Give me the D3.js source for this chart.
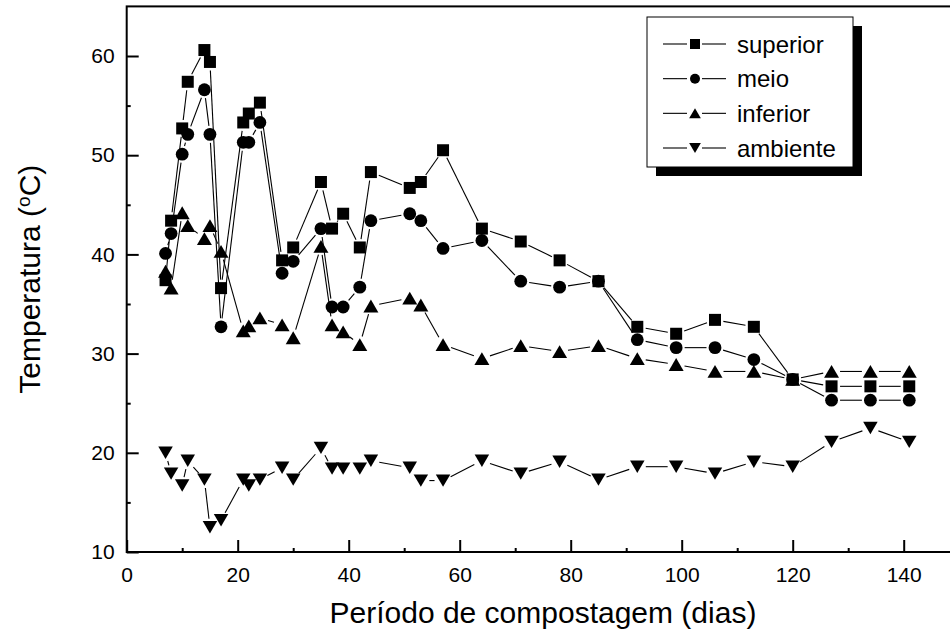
<!DOCTYPE html>
<html>
<head>
<meta charset="utf-8">
<script src="https://cdn.jsdelivr.net/npm/d3@7/dist/d3.min.js"></script>
<style>
  body { margin: 0; background: #fff; }
  svg { display: block; }
  text { font-family: "Liberation Sans", Arial, sans-serif; fill: #000; }
</style>
</head>
<body>
<div id="chart"></div>
<script>
// Temperatura durante a compostagem

const dias = [7, 8, 10, 11, 14, 15, 17, 21, 22, 24, 28, 30, 35, 37, 39, 42, 44, 51, 53, 57,
              64, 71, 78, 85, 92, 99, 106, 113, 120, 127, 134, 141];

const superior = [37.4, 43.4, 52.7, 57.4, 60.6, 59.4, 36.6, 53.3, 54.2, 55.3, 39.4, 40.7, 47.3, 42.6, 44.1, 40.7, 48.3, 46.7, 47.3, 50.5,
                  42.6, 41.3, 39.4, 37.3, 32.7, 32.0, 33.4, 32.7, 27.4, 26.7, 26.7, 26.7];
const meio = [40.1, 42.1, 50.1, 52.1, 56.6, 52.1, 32.7, 51.3, 51.3, 53.3, 38.1, 39.3, 42.6, 34.7, 34.7, 36.7, 43.4, 44.1, 43.4, 40.6,
              41.4, 37.3, 36.7, 37.3, 31.4, 30.6, 30.6, 29.4, 27.4, 25.3, 25.3, 25.3];
const inferior = [38.3, 36.6, 44.2, 42.9, 41.6, 42.9, 40.3, 32.3, 32.8, 33.6, 32.9, 31.6, 40.8, 32.9, 32.2, 30.9, 34.8, 35.6, 34.9, 30.9,
                  29.5, 30.8, 30.2, 30.8, 29.5, 28.9, 28.2, 28.2, 27.4, 28.2, 28.2, 28.2];
const ambiente = [20.0, 17.9, 16.7, 19.2, 17.3, 12.5, 13.2, 17.3, 16.7, 17.3, 18.5, 17.3, 20.5, 18.4, 18.4, 18.4, 19.2, 18.5, 17.2, 17.2,
                  19.2, 17.9, 19.1, 17.3, 18.6, 18.6, 17.9, 19.1, 18.6, 21.1, 22.5, 21.1];

const seriesNames = ["superior", "meio", "inferior", "ambiente"];
const seriesValues = [superior, meio, inferior, ambiente];
const seriesShapes = ["square", "circle", "up", "down"];

const xTicks = [0, 20, 40, 60, 80, 100, 120, 140];
const yTicks = [10, 20, 30, 40, 50, 60];

const width = 950, height = 636;
const left = 126.7, bottom = 552;

const x = d3.scaleLinear().domain([0, 150]).range([left, left + 150 * 5.55]);
const y = d3.scaleLinear().domain([10, 65]).range([bottom, bottom - 55 * 9.92]);

const svg = d3.select("#chart").append("svg")
    .attr("width", width).attr("height", height);

// marker path by shape, s = half size
function markerPath(shape, s) {
    if (shape === "square") return `M${-s},${-s}H${s}V${s}H${-s}Z`;
    if (shape === "circle") return `M${s},0A${s},${s} 0 1,1 ${-s},0A${s},${s} 0 1,1 ${s},0Z`;
    const w = s * 1.17, h = s;
    if (shape === "up") return `M0,${-h}L${w},${h}L${-w},${h}Z`;
    return `M0,${h}L${w},${-h}L${-w},${-h}Z`;
}
const markerSize = { square: 6, circle: 6.4, up: 6.4, down: 6.2 };

// --- AXES ---
const xMinor = d3.range(10, 150, 20);
const yMinor = d3.range(15, 65, 10);

svg.append("g").attr("transform", `translate(0,${bottom})`)
    .call(d3.axisBottom(x).tickValues(xMinor).tickSize(-4).tickFormat(""))
    .call(g => g.select(".domain").remove());
svg.append("g").attr("transform", `translate(${left},0)`)
    .call(d3.axisLeft(y).tickValues(yMinor).tickSize(-4).tickFormat(""))
    .call(g => g.select(".domain").remove());

const xAxis = svg.append("g").attr("transform", `translate(0,${bottom})`)
    .call(d3.axisBottom(x).tickValues(xTicks).tickSize(-12).tickPadding(15).tickFormat(d3.format("d")));
xAxis.select(".domain").remove();
xAxis.selectAll("text").attr("font-size", 21).attr("dy", "0.71em");

const yAxis = svg.append("g").attr("transform", `translate(${left},0)`)
    .call(d3.axisLeft(y).tickValues(yTicks).tickSize(-12).tickPadding(12).tickFormat(d3.format("d")));
yAxis.select(".domain").remove();
yAxis.selectAll("text").attr("font-size", 21);

svg.selectAll(".tick line").attr("stroke", "#000").attr("stroke-width", 2);

// frame
svg.append("rect")
    .attr("x", x(0)).attr("y", y(65))
    .attr("width", x(150) - x(0)).attr("height", y(10) - y(65))
    .attr("fill", "none").attr("stroke", "#000").attr("stroke-width", 2);

// --- SERIES ---
const gap = 8.5;
seriesValues.forEach((vals, si) => {
    const pts = dias.map((d, i) => [x(d), y(vals[i])]);
    const segs = [];
    for (let i = 0; i < pts.length - 1; i++) {
        const [x1, y1] = pts[i], [x2, y2] = pts[i + 1];
        const len = Math.hypot(x2 - x1, y2 - y1);
        if (len <= 2 * gap) continue;
        const ux = (x2 - x1) / len, uy = (y2 - y1) / len;
        segs.push([x1 + ux * gap, y1 + uy * gap, x2 - ux * gap, y2 - uy * gap]);
    }
    const g = svg.append("g").attr("class", "series-" + seriesNames[si]);
    g.selectAll("line").data(segs).join("line")
        .attr("x1", d => d[0]).attr("y1", d => d[1]).attr("x2", d => d[2]).attr("y2", d => d[3])
        .attr("stroke", "#000").attr("stroke-width", 1.1);
    const shape = seriesShapes[si];
    g.selectAll("path").data(pts).join("path")
        .attr("transform", d => `translate(${d[0]},${d[1]})`)
        .attr("d", markerPath(shape, markerSize[shape]))
        .attr("fill", "#000");
});

// --- LEGEND ---
const lg = svg.append("g").attr("transform", "translate(647,17)");
lg.append("rect").attr("x", 9).attr("y", 9).attr("width", 206).attr("height", 150).attr("fill", "#000");
lg.append("rect").attr("x", 0).attr("y", 0).attr("width", 206).attr("height", 150)
    .attr("fill", "#fff").attr("stroke", "#000").attr("stroke-width", 1);

const rowY = d3.scalePoint().domain(seriesNames).range([27, 131]);
seriesNames.forEach((name, i) => {
    const ry = rowY(name);
    const row = lg.append("g").attr("transform", `translate(0,${ry})`);
    row.append("line").attr("x1", 16).attr("x2", 40).attr("y1", 0).attr("y2", 0).attr("stroke", "#000").attr("stroke-width", 1.1);
    row.append("line").attr("x1", 55).attr("x2", 79).attr("y1", 0).attr("y2", 0).attr("stroke", "#000").attr("stroke-width", 1.1);
    row.append("path").attr("transform", "translate(48,0)")
        .attr("d", markerPath(seriesShapes[i], 5)).attr("fill", "#000");
    row.append("text").attr("x", 90).attr("y", 8.5).attr("font-size", 24).text(name);
});

// --- TITLES ---
svg.append("text")
    .attr("x", (x(0) + x(150)) / 2).attr("y", 623)
    .attr("text-anchor", "middle").attr("font-size", 30)
    .text("Período de compostagem (dias)");

const yt = svg.append("text")
    .attr("transform", `translate(40,${(y(10) + y(65)) / 2}) rotate(-90)`)
    .attr("text-anchor", "middle").attr("font-size", 30);
yt.append("tspan").text("Temperatura (");
yt.append("tspan").attr("font-size", 19).attr("baseline-shift", "super").text("o");
yt.append("tspan").text("C)");
</script>
</body>
</html>
